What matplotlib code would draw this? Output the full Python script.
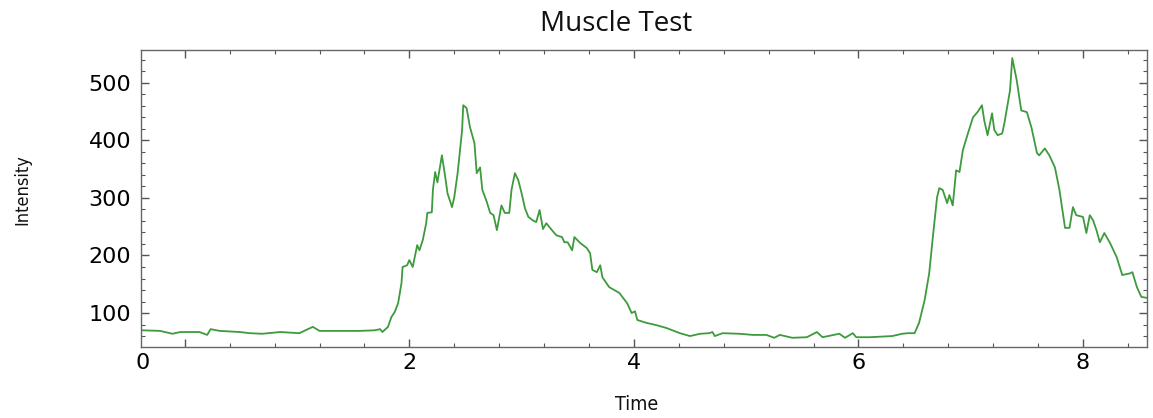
import matplotlib.pyplot as plt
from matplotlib.ticker import MultipleLocator
from matplotlib.transforms import ScaledTranslation

# values
time = [-0.38, -0.22, -0.11, -0.04, 0.13, 0.20, 0.23, 0.31, 0.49, 0.58, 0.69, 0.85,
        1.02, 1.14, 1.20, 1.38, 1.56, 1.69, 1.74, 1.76, 1.81, 1.84, 1.87, 1.90,
        1.93, 1.94, 1.98, 2.00, 2.03, 2.07, 2.09, 2.12, 2.15, 2.16, 2.20, 2.21,
        2.23, 2.25, 2.29, 2.32, 2.34, 2.38, 2.40, 2.43, 2.47, 2.48, 2.51, 2.54,
        2.56, 2.58, 2.60, 2.63, 2.65, 2.69, 2.72, 2.75, 2.78, 2.82, 2.85, 2.89,
        2.91, 2.94, 2.97, 3.00, 3.03, 3.06, 3.10, 3.13, 3.16, 3.19, 3.22, 3.27,
        3.31, 3.36, 3.38, 3.41, 3.45, 3.47, 3.52, 3.58, 3.61, 3.63, 3.67, 3.70,
        3.72, 3.78, 3.87, 3.94, 3.98, 4.01, 4.03, 4.11, 4.20, 4.29, 4.41, 4.50,
        4.59, 4.67, 4.70, 4.72, 4.79, 4.94, 5.06, 5.18, 5.25, 5.30, 5.41, 5.54,
        5.63, 5.68, 5.83, 5.88, 5.95, 5.98, 6.10, 6.30, 6.39, 6.44, 6.50, 6.54,
        6.59, 6.63, 6.66, 6.70, 6.72, 6.75, 6.79, 6.81, 6.84, 6.87, 6.90, 6.93,
        6.97, 7.02, 7.06, 7.10, 7.12, 7.15, 7.19, 7.21, 7.24, 7.28, 7.30, 7.35,
        7.37, 7.41, 7.45, 7.50, 7.54, 7.59, 7.61, 7.66, 7.70, 7.75, 7.79, 7.84,
        7.88, 7.91, 7.94, 8.00, 8.03, 8.06, 8.09, 8.12, 8.15, 8.19, 8.24, 8.30,
        8.35, 8.42, 8.44, 8.48, 8.52, 8.58]
intensity = [70, 69, 64, 67, 67, 62, 72, 69, 67, 65, 64, 67,
             65, 76, 69, 69, 69, 70, 72, 67, 76, 93, 102, 117,
             152, 180, 183, 192, 180, 218, 209, 227, 256, 274, 275, 314,
             345, 327, 374, 336, 308, 284, 301, 343, 418, 461, 456, 423,
             409, 395, 343, 353, 314, 293, 274, 270, 244, 287, 274, 274,
             314, 343, 331, 308, 282, 267, 261, 258, 279, 246, 256, 244,
             235, 232, 223, 223, 209, 232, 222, 213, 204, 175, 171, 183,
             162, 145, 135, 117, 100, 103, 88, 83, 79, 74, 65, 60,
             64, 65, 67, 60, 65, 64, 62, 62, 57, 62, 57, 58,
             67, 58, 64, 57, 65, 58, 58, 60, 64, 65, 65, 83,
             123, 169, 227, 301, 317, 314, 291, 305, 287, 348, 345, 383,
             409, 440, 449, 461, 435, 409, 447, 418, 409, 412, 430, 487,
             543, 504, 452, 449, 423, 378, 374, 386, 374, 353, 314, 248,
             248, 284, 270, 267, 239, 270, 261, 244, 223, 239, 222, 197,
             166, 169, 171, 145, 128, 126]

x_ticks = [0, 2, 4, 6, 8]
y_ticks = [100, 200, 300, 400, 500]

fig = plt.figure(figsize=(11.53, 4.18), dpi=100)
ax = fig.add_axes([141 / 1153, 71 / 418, 1006 / 1153, 297 / 418])

ax.plot(time, intensity, color='#3d9a3d', linewidth=1.3)

ax.set_xlim(-0.39, 8.57)
ax.set_ylim(41, 557)
ax.set_xticks(x_ticks)
ax.set_yticks(y_ticks)
ax.xaxis.set_minor_locator(MultipleLocator(0.4))
ax.yaxis.set_minor_locator(MultipleLocator(20))
ax.tick_params(which='both', direction='in', top=True, right=True, color='#555555')
ax.tick_params(which='major', length=6, width=1)
ax.tick_params(which='minor', length=3, width=0.8)
ax.tick_params(axis='x', labelsize=16, pad=4)
ax.tick_params(axis='y', labelsize=16, pad=7)
for s in ax.spines.values():
    s.set_color('#666666')
    s.set_linewidth(1)

# the reference prints the "0" label at the left edge of the frame
lab0 = ax.get_xticklabels()[0]
lab0.set_transform(lab0.get_transform() + ScaledTranslation(-0.42, 0, fig.dpi_scale_trans))

fig.text(616 / 1153, 1 - 24 / 418, 'Muscle Test', ha='center', va='center',
         fontsize=20, family='Open Sans', color='#111111')
fig.text(637 / 1153, 1 - 405 / 418, 'Time', ha='center', va='center',
         fontsize=14, family='DejaVu Sans', fontstretch='condensed', color='#111111')
fig.text(22 / 1153, 1 - 190 / 418, 'Intensity', ha='center', va='center', rotation=90,
         fontsize=13, family='DejaVu Sans', fontstretch='condensed', color='#111111')

plt.savefig('out.png', dpi=100)
